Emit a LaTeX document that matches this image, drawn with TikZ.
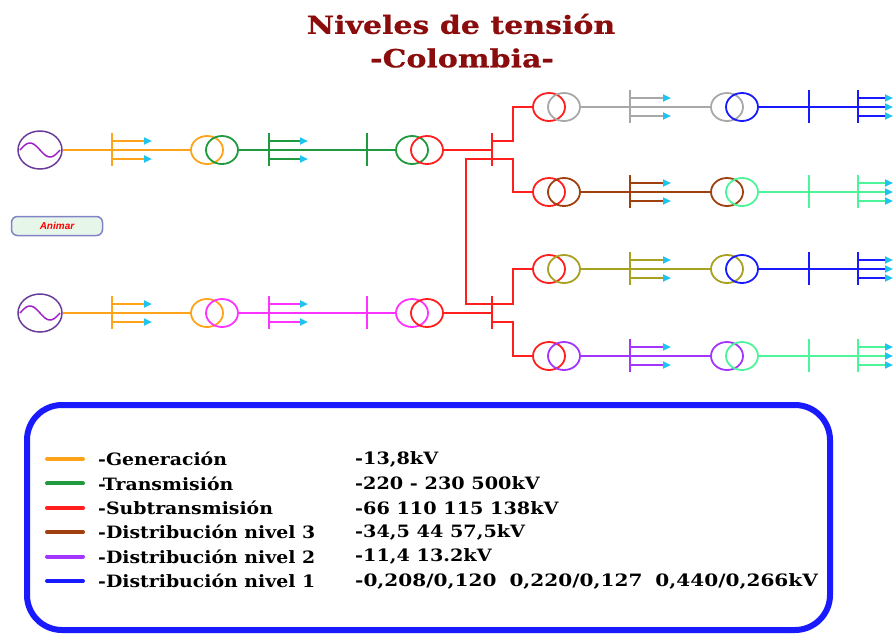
\documentclass[tikz,border=0pt]{standalone}
\usepackage{fontspec}
\setmainfont{DejaVu Serif}
\newfontfamily\btnfont{Liberation Sans}
\newfontfamily\titlefont[FakeStretch=1.2,FakeBold=0.6]{DejaVu Serif}
\newfontfamily\labfont[FakeStretch=1.11]{DejaVu Serif}
\newfontfamily\valfont[FakeStretch=1.13]{DejaVu Serif}
\newfontfamily\widefont[FakeStretch=1.18]{DejaVu Serif}
\usetikzlibrary{arrows.meta,shapes.geometric}
\definecolor{titlered}{HTML}{8A0C0C}
\definecolor{gencol}{HTML}{FFA31A}
\definecolor{trancol}{HTML}{1F9A3E}
\definecolor{subcol}{HTML}{FF1F1F}
\definecolor{dtrescol}{HTML}{A0400F}
\definecolor{ddoscol}{HTML}{A335FF}
\definecolor{dunocol}{HTML}{1A1AFF}
\definecolor{magcol}{HTML}{FF33FF}
\definecolor{greycol}{HTML}{A8A8A8}
\definecolor{olivecol}{HTML}{A8A020}
\definecolor{springcol}{HTML}{4DF59A}
\definecolor{tipcol}{HTML}{1EC3F0}
\definecolor{genring}{HTML}{6A3D9A}
\definecolor{genwave}{HTML}{A020C8}
\definecolor{btnedge}{HTML}{8282C8}
\definecolor{btnfill}{HTML}{E6F7EA}
\tikzset{
  wire/.style={line width=2pt},
  busbar/.style={line width=2pt},
  coil/.style={draw, ellipse, minimum width=32pt, minimum height=28pt, inner sep=0pt, line width=1.8pt},
  feeder/.style={line width=2pt, -{Triangle[length=8pt,width=7pt,color=tipcol]}},
  machine/.style={draw=genring, ellipse, minimum width=44pt, minimum height=38pt, inner sep=0pt, line width=1.5pt},
  headline/.style={titlered, font=\titlefont\fontsize{25}{30}\selectfont\bfseries},
  labtext/.style={anchor=west, inner sep=0pt, font=\labfont\fontsize{17}{20}\selectfont\bfseries},
  valtext/.style={anchor=west, inner sep=0pt, font=\valfont\fontsize{17}{20}\selectfont\bfseries},
}
\begin{document}
\begin{tikzpicture}[x=1pt,y=-1pt]
\useasboundingbox (0,0) rectangle (893,635);
\node[headline] (title) at (461,24) {Niveles de tensión};
\node[headline] (subtitle) at (462,58) {-Colombia-};
\node[draw=btnedge, fill=btnfill, rounded corners=6pt, minimum width=91pt, minimum height=19pt, line width=1.5pt, text=red, font=\btnfont\bfseries\itshape\fontsize{10}{12}\selectfont] (animar) at (57,226) {Animar};

\foreach \n/\y/\c in {1/150/trancol, 2/313/magcol}{
  \node[machine] (g\n) at (40,\y) {};
  \draw[genwave, line width=1.5pt, shift={(g\n.center)}, domain=-20:20, samples=30, smooth, variable=\t] plot (\t, {7*sin(9*\t)});
  \coordinate (gbus\n) at (112,\y);
  \coordinate (hbus\n) at (269,\y);
  \coordinate (kbus\n) at (367,\y);
  \coordinate (sbus\n) at (492,\y);
  \node[coil, gencol] (ta\n) at (207,\y) {};
  \node[coil, \c] (tb\n) at (222,\y) {};
  \node[coil, \c] (tc\n) at (412,\y) {};
  \node[coil, subcol] (td\n) at (427,\y) {};
  \draw[wire, gencol] (g\n) -- (ta\n);
  \draw[wire, \c] (tb\n) -- (tc\n);
  \draw[wire, subcol] (td\n) -- (sbus\n);
  \draw[busbar, gencol] ([yshift=17pt]gbus\n) -- ([yshift=-16pt]gbus\n);
  \draw[busbar, \c] ([yshift=17pt]hbus\n) -- ([yshift=-16pt]hbus\n);
  \draw[busbar, \c] ([yshift=17pt]kbus\n) -- ([yshift=-16pt]kbus\n);
  \draw[busbar, subcol] ([yshift=17pt]sbus\n) -- ([yshift=-16pt]sbus\n);
  \foreach \s in {9,-9}{
    \draw[feeder, gencol] ([yshift=\s pt]gbus\n) -- ++(40,0);
    \draw[feeder, \c] ([yshift=\s pt]hbus\n) -- ++(39,0);
  }
}
\draw[wire, subcol] ([yshift=-9pt]sbus1) -- ++(-26,0) |- ([yshift=9pt]sbus2);

\foreach \r/\y/\k/\s/\ca/\cb in {1/107/1/9/greycol/dunocol, 2/192/1/-9/dtrescol/springcol, 3/269/2/9/olivecol/dunocol, 4/356/2/-9/ddoscol/springcol}{
  \node[coil, subcol] (ua\r) at (549,\y) {};
  \node[coil, \ca] (ub\r) at (564,\y) {};
  \node[coil, \ca] (va\r) at (727,\y) {};
  \node[coil, \cb] (vb\r) at (742,\y) {};
  \coordinate (pbus\r) at (630,\y);
  \coordinate (qbus\r) at (809,\y);
  \coordinate (zbus\r) at (858,\y);
  \draw[wire, subcol] ([yshift=\s pt]sbus\k) -- ++(21,0) |- (ua\r);
  \draw[wire, \ca] (ub\r) -- (va\r);
  \draw[wire, \cb] (vb\r) -- (zbus\r);
  \draw[busbar, \ca] ([yshift=17pt]pbus\r) -- ([yshift=-16pt]pbus\r);
  \draw[busbar, \cb] ([yshift=17pt]qbus\r) -- ([yshift=-16pt]qbus\r);
  \draw[busbar, \cb] ([yshift=17pt]zbus\r) -- ([yshift=-16pt]zbus\r);
  \draw[feeder, \cb] (zbus\r) -- ++(35,0);
  \foreach \t in {9,-9}{
    \draw[feeder, \ca] ([yshift=\t pt]pbus\r) -- ++(41,0);
    \draw[feeder, \cb] ([yshift=\t pt]zbus\r) -- ++(35,0);
  }
}

\draw[dunocol, line width=6pt, rounded corners=35pt] (27,405) rectangle (830,630);
\foreach \c/\t [count=\i] in {gencol/Generación, trancol/Transmisión, subcol/Subtransmisión, dtrescol/Distribución nivel 3, ddoscol/Distribución nivel 2, dunocol/Distribución nivel 1}{
  \draw[\c, line width=4pt, line cap=round] (47,{459+24.4*(\i-1)}) -- (83,{459+24.4*(\i-1)});
  \node[labtext] (lab\i) at (98,{459+24.4*(\i-1)}) {-\t};
}
\node[valtext] (val1) at (355,459) {-13,8kV};
\node[valtext] (val2) at (355,483.4) {-220 - 230 500kV};
\node[valtext] (val3) at (355,507.8) {-66 110 115 138kV};
\node[valtext] (val4) at (355,532.2) {-34,5 44 57,5kV};
\node[valtext] (val5) at (355,556.6) {-11,4 13.2kV};
\node[valtext, font=\widefont\fontsize{17}{20}\selectfont\bfseries] (val6) at (355,581) {-0,208/0,120\hspace{13pt}0,220/0,127\hspace{13pt}0,440/0,266kV};
\end{tikzpicture}
\end{document}
